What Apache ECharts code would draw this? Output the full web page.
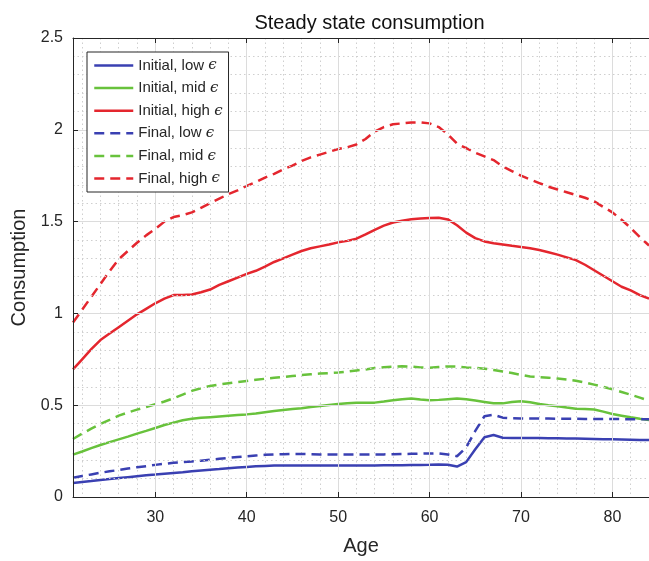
<!DOCTYPE html>
<html>
<head>
<meta charset="utf-8">
<script src="https://cdn.jsdelivr.net/npm/echarts@6/dist/echarts.min.js"></script>
<style>html,body{margin:0;padding:0;background:#fff}#c{width:649px;height:561px}</style>
</head>
<body>
<div id="c"></div>
<script>
const ages = [21,22,23,24,25,26,27,28,29,30,31,32,33,34,35,36,37,38,39,40,41,42,43,44,45,46,47,48,49,50,51,52,53,54,55,56,57,58,59,60,61,62,63,64,65,66,67,68,69,70,71,72,73,74,75,76,77,78,79,80,81,82,83,84];
const initialLow = [0.076,0.082,0.087,0.093,0.098,0.103,0.108,0.113,0.118,0.122,0.127,0.131,0.135,0.140,0.144,0.148,0.152,0.157,0.161,0.164,0.167,0.169,0.171,0.171,0.171,0.171,0.171,0.171,0.171,0.171,0.171,0.171,0.172,0.172,0.173,0.173,0.173,0.174,0.174,0.175,0.177,0.176,0.166,0.190,0.260,0.325,0.338,0.323,0.321,0.322,0.321,0.321,0.320,0.320,0.319,0.318,0.317,0.316,0.315,0.314,0.313,0.312,0.311,0.310];
const initialMid = [0.231,0.248,0.266,0.283,0.299,0.314,0.329,0.345,0.360,0.376,0.392,0.405,0.418,0.426,0.431,0.435,0.439,0.443,0.447,0.450,0.455,0.462,0.469,0.474,0.479,0.484,0.490,0.496,0.501,0.506,0.511,0.514,0.513,0.514,0.520,0.527,0.533,0.536,0.531,0.527,0.529,0.533,0.537,0.532,0.525,0.518,0.511,0.510,0.517,0.522,0.516,0.507,0.500,0.494,0.487,0.481,0.479,0.477,0.465,0.452,0.443,0.434,0.426,0.420];
const initialHigh = [0.695,0.750,0.805,0.855,0.890,0.925,0.960,0.995,1.025,1.055,1.080,1.100,1.100,1.103,1.115,1.130,1.155,1.175,1.195,1.215,1.232,1.255,1.280,1.300,1.320,1.340,1.355,1.365,1.375,1.387,1.395,1.407,1.430,1.455,1.478,1.495,1.505,1.513,1.517,1.520,1.521,1.512,1.480,1.440,1.410,1.392,1.382,1.375,1.368,1.362,1.355,1.345,1.333,1.320,1.305,1.290,1.265,1.235,1.205,1.175,1.145,1.125,1.100,1.080];
const finalLow = [0.105,0.114,0.123,0.132,0.140,0.147,0.155,0.162,0.168,0.175,0.181,0.186,0.190,0.194,0.198,0.203,0.208,0.213,0.218,0.222,0.226,0.230,0.232,0.233,0.234,0.234,0.233,0.232,0.232,0.231,0.231,0.231,0.231,0.231,0.232,0.233,0.234,0.235,0.236,0.237,0.238,0.232,0.222,0.270,0.360,0.440,0.448,0.432,0.429,0.428,0.427,0.427,0.427,0.426,0.426,0.426,0.425,0.425,0.425,0.425,0.424,0.424,0.424,0.424];
const finalMid = [0.316,0.345,0.372,0.398,0.420,0.443,0.460,0.476,0.490,0.505,0.520,0.538,0.558,0.578,0.593,0.605,0.613,0.620,0.626,0.632,0.638,0.644,0.649,0.654,0.659,0.664,0.668,0.672,0.675,0.678,0.683,0.689,0.695,0.702,0.707,0.710,0.712,0.710,0.706,0.704,0.708,0.711,0.710,0.706,0.703,0.699,0.692,0.684,0.675,0.665,0.656,0.653,0.650,0.645,0.640,0.633,0.624,0.612,0.600,0.587,0.572,0.557,0.541,0.525];
const finalHigh = [0.950,1.020,1.090,1.160,1.230,1.295,1.340,1.385,1.425,1.460,1.500,1.525,1.535,1.550,1.575,1.600,1.625,1.650,1.670,1.695,1.715,1.740,1.760,1.785,1.805,1.830,1.850,1.865,1.880,1.895,1.905,1.920,1.950,1.990,2.015,2.030,2.035,2.040,2.040,2.035,2.015,1.975,1.925,1.900,1.875,1.855,1.835,1.800,1.775,1.750,1.730,1.710,1.690,1.675,1.660,1.645,1.630,1.610,1.580,1.550,1.510,1.465,1.415,1.370];
const xMajorTicks = [30,40,50,60,70,80];
const xMinorTicks = [22,24,26,28,32,34,36,38,42,44,46,48,52,54,56,58,62,64,66,68,72,74,76,78,82,84];
const seriesNames = ['Initial, low \u03F5','Initial, mid \u03F5','Initial, high \u03F5','Final, low \u03F5','Final, mid \u03F5','Final, high \u03F5'];
const titleText = 'Steady state consumption';
const xName = 'Age';
const yName = 'Consumption';

const BLUE = '#3a40b2', GREEN = '#68c23c', RED = '#e4262e';
const FONT = 'Liberation Sans, Arial, Helvetica, sans-serif';
const TXT = '#262626';
const pairs = v => ages.map((a, i) => [a, v[i]]);
const mk = (name, v, color, dashed) => ({
  name, type: 'line', data: pairs(v), symbol: 'none', smooth: false,
  xAxisIndex: 0, yAxisIndex: 0,
  lineStyle: { color, width: 2.5, type: dashed ? [10, 6] : 'solid' },
  itemStyle: { color }, emphasis: { disabled: true }, z: 3
});

const chart = echarts.init(document.getElementById('c'), null, { renderer: 'canvas' });
chart.setOption({
  animation: false,
  backgroundColor: '#fff',
  textStyle: { fontFamily: FONT },
  title: { text: titleText, left: 364.5, textAlign: 'center', top: 8,
    textStyle: { fontSize: 20, fontWeight: 'normal', color: '#111', fontFamily: FONT } },
  grid: { left: 73, top: 38, width: 583, height: 462, containLabel: false },
  legend: {
    left: 87, top: 52, orient: 'vertical', padding: [6, 6, 6, 6], z: 20,
    itemWidth: 39, itemHeight: 14, itemGap: 7.6, itemTextGap: 3,
    backgroundColor: '#fff', borderColor: '#262626', borderWidth: 1,
    itemStyle: { color: 'rgba(0,0,0,0)', borderWidth: 0, opacity: 0 },
    lineStyle: { width: 2.5 },
    textStyle: { fontSize: 15, color: TXT, fontFamily: FONT,
      rich: { e: { fontSize: 15, fontFamily: 'DejaVu Serif', fontStyle: 'italic', color: TXT } } },
    formatter: n => n.slice(0, -1) + '{e|' + n.slice(-1) + '}',
    data: seriesNames
  },
  xAxis: [
    { type: 'value', position: 'bottom', min: 21, max: 84,
      name: xName, nameLocation: 'middle', nameGap: 39,
      nameTextStyle: { fontSize: 20, color: TXT, fontFamily: FONT },
      axisLine: { show: true, lineStyle: { color: '#262626', width: 1 } },
      axisTick: { show: true, inside: true, length: 5, customValues: xMajorTicks, lineStyle: { color: '#262626' } },
      axisLabel: { customValues: xMajorTicks, fontSize: 16, color: TXT, margin: 13, fontFamily: FONT },
      splitLine: { show: true, lineStyle: { color: '#dcdcdc', width: 1 } },
      z: 5 },
    { type: 'value', position: 'top', min: 21, max: 84,
      axisLine: { show: true, onZero: false, lineStyle: { color: '#262626', width: 1 } },
      axisTick: { show: true, inside: true, length: 5, customValues: xMajorTicks, lineStyle: { color: '#262626' } },
      axisLabel: { show: false },
      splitLine: { show: false }, z: 5 },
    { type: 'value', position: 'bottom', min: 21, max: 84,
      axisLine: { show: false }, axisLabel: { show: false },
      axisTick: { show: false, customValues: xMinorTicks },
      splitLine: { show: true, lineStyle: { color: '#cfcfcf', width: 1, type: [1.5, 3] } } }
  ],
  yAxis: [
    { type: 'value', min: 0, max: 2.5, interval: 0.5,
      name: yName, nameLocation: 'middle', nameGap: 41, nameRotate: 90,
      nameTextStyle: { fontSize: 20, color: TXT, fontFamily: FONT },
      axisLine: { show: true, lineStyle: { color: '#262626', width: 1 } },
      axisTick: { show: true, inside: true, length: 5, lineStyle: { color: '#262626' } },
      axisLabel: { fontSize: 16, color: TXT, margin: 10, fontFamily: FONT },
      splitLine: { show: true, lineStyle: { color: '#dcdcdc', width: 1 } },
      minorTick: { show: false, splitNumber: 5 },
      minorSplitLine: { show: true, lineStyle: { color: '#cfcfcf', width: 1, type: [1.5, 3] } },
      z: 5 }
  ],
  series: [
    mk(seriesNames[0], initialLow, BLUE, false),
    mk(seriesNames[1], initialMid, GREEN, false),
    mk(seriesNames[2], initialHigh, RED, false),
    mk(seriesNames[3], finalLow, BLUE, true),
    mk(seriesNames[4], finalMid, GREEN, true),
    mk(seriesNames[5], finalHigh, RED, true)
  ]
});
</script>
</body>
</html>
